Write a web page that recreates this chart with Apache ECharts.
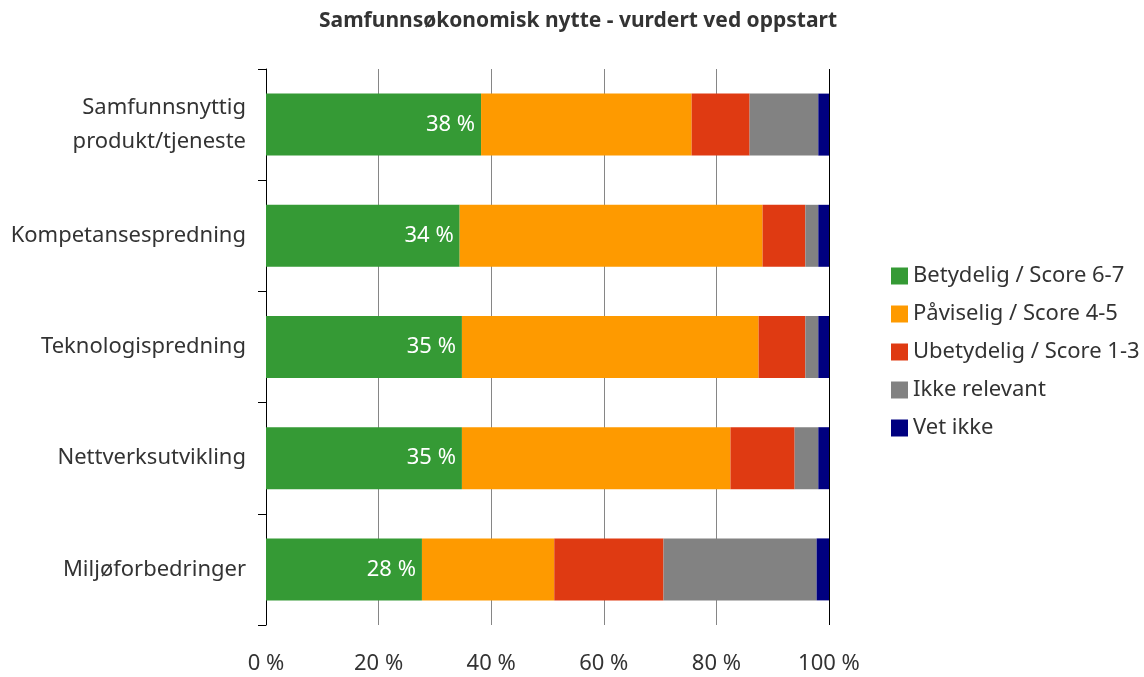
<!DOCTYPE html>
<html lang="no">
<head>
  <meta charset="UTF-8">
  <title>Samfunnsøkonomisk nytte - vurdert ved oppstart</title>
  <style>
    * { margin: 0; padding: 0; }
    body { background: #fff; }
    #chart { width: 1144px; height: 677px; }
  </style>
</head>
<body>
  <div id="chart"></div>
  <script src="https://cdn.jsdelivr.net/npm/echarts@6/dist/echarts.min.js"></script>
  <script>
    // kategorier (ovenfra og ned)
    const categories = [
      'Samfunnsnyttig\nprodukt/tjeneste',
      'Kompetansespredning',
      'Teknologispredning',
      'Nettverksutvikling',
      'Miljøforbedringer'
    ]
    const seriesNames = [
      'Betydelig / Score 6-7',
      'Påviselig / Score 4-5',
      'Ubetydelig / Score 1-3',
      'Ikke relevant',
      'Vet ikke'
    ]
    // prosentandeler, lest av figuren
    const betydelig = [38.2, 34.4, 34.8, 34.8, 27.7]
    const paviselig = [37.4, 53.8, 52.7, 47.7, 23.5]
    const ubetydelig = [10.3, 7.6, 8.3, 11.4, 19.4]
    const ikkeRelevant = [12.2, 2.3, 2.3, 4.2, 27.2]
    const vetIkke = [1.9, 1.9, 1.9, 1.9, 2.2]
    const xTicks = [0, 20, 40, 60, 80, 100]

    const colors = ['#359a35', '#fe9a00', '#df3a12', '#828282', '#000080']
    const font = 'Noto Sans'

    const chart = echarts.init(document.getElementById('chart'))
    const values = [betydelig, paviselig, ubetydelig, ikkeRelevant, vetIkke]

    chart.setOption({
      animation: false,
      textStyle: { fontFamily: font },
      title: {
        text: 'Samfunnsøkonomisk nytte - vurdert ved oppstart',
        left: 573,
        textAlign: 'center',
        top: 6,
        textStyle: { fontSize: 21, fontWeight: 'bold', color: '#333', fontFamily: font }
      },
      legend: {
        orient: 'vertical',
        left: 886,
        top: 260,
        itemWidth: 17,
        itemHeight: 17,
        itemGap: 16,
        icon: 'rect',
        textStyle: { fontSize: 22, lineHeight: 22, color: '#333' },
        data: seriesNames
      },
      grid: { left: 266, right: 315, top: 69, bottom: 52, containLabel: false },
      xAxis: {
        type: 'value',
        min: 0,
        max: 100,
        interval: 20,
        axisLine: { show: false },
        axisTick: { show: false },
        splitLine: {
          lineStyle: { color: ['#868686', '#868686', '#868686', '#868686', '#868686', '#000'], width: 1 }
        },
        axisLabel: {
          fontSize: 22, color: '#333', margin: 28,
          formatter: v => xTicks.includes(v) ? v + ' %' : ''
        }
      },
      yAxis: {
        type: 'category',
        inverse: true,
        data: categories,
        axisLine: { show: true, lineStyle: { color: '#000', width: 1 } },
        axisTick: { show: true, length: 8, lineStyle: { color: '#000' } },
        axisLabel: { fontSize: 22, color: '#333', margin: 20, lineHeight: 34, align: 'right' }
      },
      series: seriesNames.map((name, i) => ({
        name: name,
        type: 'bar',
        stack: 'total',
        barWidth: 62,
        itemStyle: { color: colors[i] },
        label: {
          show: i === 0,
          position: 'insideRight',
          distance: 6,
          color: '#fff',
          fontSize: 22,
          formatter: p => Math.round(p.value) + ' %'
        },
        data: values[i]
      }))
    })
  </script>
</body>
</html>
